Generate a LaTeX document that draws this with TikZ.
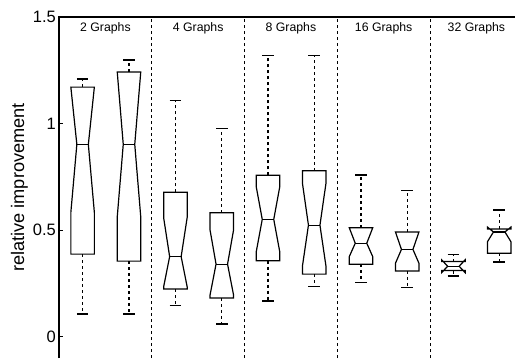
\documentclass[tikz,border=0pt]{standalone}
\usepackage{fontspec}
\setmainfont{Liberation Sans}
\usetikzlibrary{positioning}

\begin{document}
\begin{tikzpicture}[x=1pt, y=213pt,
  axis/.style = {line width=1.6pt},
  sep/.style = {dash pattern=on 3pt off 3pt, line width=0.7pt},
  bx/.style = {line width=1.2pt, line join=miter},
  whisk/.style = {dash pattern=on 3pt off 3pt, line width=1.3pt},
  grp/.style = {font=\fontsize{12.3}{14}\selectfont},
  lbl/.style = {font=\fontsize{16.5}{18}\selectfont, anchor=east, inner sep=0pt}]
\useasboundingbox (0,-0.101) rectangle (515,1.58);

% axes
\draw[axis] (59,-0.101) -- (59,1.5) -- (515,1.5);
\foreach \v/\t in {0/0,0.5/05,1/1,1.5/15} {
  \draw[line width=1pt] (59,\v) -- (63,\v);
  \node[lbl] (y\t) at (56,\v) {\v};
}
\node[font=\fontsize{18.2}{20}\selectfont, rotate=90] (ylab) at (19.5,0.70) {relative improvement};

% group separators and titles
\foreach \s in {1,...,4}
  \draw[sep] (59+92.75*\s,-0.101) -- (59+92.75*\s,1.5);
\foreach \g/\n in {0/2,1/4,2/8,3/16,4/32}
  \node[grp] (g\n) at (105.4+92.75*\g,1.445) {\n\ Graphs};

% notched boxes: x / lower whisker / Q1 / notch low / median / notch high / Q3 / upper whisker
\foreach \px/\wlo/\qlo/\nlo/\med/\nhi/\qhi/\whi in {
  82.6/0.106/0.387/0.583/0.902/1.171/1.171/1.209,
  129/0.106/0.354/0.562/0.902/1.242/1.242/1.298,
  175.4/0.146/0.223/0.234/0.375/0.558/0.677/1.107,
  221.8/0.059/0.181/0.195/0.340/0.500/0.581/0.977,
  268/0.167/0.356/0.398/0.550/0.703/0.757/1.318,
  314.2/0.234/0.293/0.331/0.523/0.719/0.778/1.318,
  361/0.253/0.339/0.375/0.438/0.511/0.511/0.758,
  407.2/0.229/0.308/0.344/0.409/0.491/0.491/0.686,
  453.4/0.284/0.310/0.300/0.330/0.360/0.352/0.386,
  499.2/0.350/0.391/0.445/0.491/0.514/0.505/0.594} {
  \draw[bx] (\px-11.75,\qlo) -- (\px-11.75,\nlo) -- (\px-5.75,\med) -- (\px-11.75,\nhi)
    -- (\px-11.75,\qhi) -- (\px+11.75,\qhi) -- (\px+11.75,\nhi) -- (\px+5.75,\med)
    -- (\px+11.75,\nlo) -- (\px+11.75,\qlo) -- cycle;
  \draw[bx] (\px-5.75,\med) -- (\px+5.75,\med);
  \draw[whisk] (\px,\qhi) -- (\px,\whi);
  \draw[whisk] (\px,\qlo) -- (\px,\wlo);
  \draw[bx] (\px-5.8,\whi) -- (\px+5.8,\whi);
  \draw[bx] (\px-5.8,\wlo) -- (\px+5.8,\wlo);
}
\end{tikzpicture}
\end{document}
